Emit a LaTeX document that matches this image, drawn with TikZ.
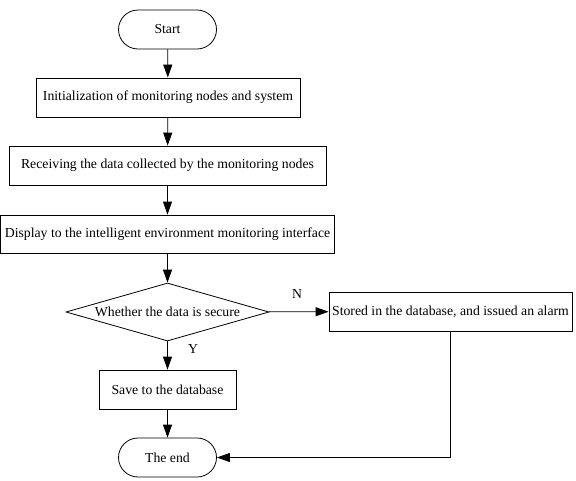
\documentclass[tikz,border=0pt]{standalone}
\usepackage{fontspec}
\setmainfont{Liberation Serif}
\usetikzlibrary{shapes.geometric,arrows.meta}
\begin{document}
\begin{tikzpicture}[x=1pt,y=-1pt,
  every node/.style={font=\fontsize{13.75}{16}\selectfont},
  procbox/.style={draw,line width=0.8pt,inner sep=0pt,minimum height=39pt},
  termbox/.style={draw,line width=0.8pt,inner sep=0pt,minimum width=98pt,minimum height=39pt,rounded corners=19.5pt},
  decbox/.style={draw,diamond,line width=0.8pt,inner sep=0pt,shape aspect=3.5,minimum width=203pt,minimum height=58pt},
  flow/.style={line width=0.8pt,-{Triangle[length=13pt,width=9pt]}},
  lbl/.style={inner sep=0pt}]
\useasboundingbox (0,0) rectangle (576,480);
\node[termbox] (start) at (167.5,29.5) {Start};
\node[procbox,minimum width=264pt] (init) at (168,97.5) {Initialization of monitoring nodes and system};
\node[procbox,minimum width=317pt] (recv) at (167.5,165.5) {Receiving the data collected by the monitoring nodes};
\node[procbox,minimum width=334pt,minimum height=38pt] (disp) at (167.5,234) {Display to the intelligent environment monitoring interface};
\node[decbox] (dec) at (167.5,312) {Whether the data is secure};
\node[procbox,minimum width=243pt] (alarm) at (450.5,311.5) {Stored in the database, and issued an alarm};
\node[procbox,minimum width=137pt] (save) at (167.5,389.5) {Save to the database};
\node[termbox] (end) at (167.5,457.5) {The end};
\node[lbl] (nlab) at (297,294) {N};
\node[lbl] (ylab) at (193,349) {Y};
\draw[flow] (start) -- (init);
\draw[flow] (init) -- (recv);
\draw[flow] (recv) -- (disp);
\draw[flow] (disp) -- (dec);
\draw[flow] (dec) -- (alarm);
\draw[flow] (dec) -- (save);
\draw[flow] (save) -- (end);
\draw[flow] (alarm.south) |- (end.east);
\end{tikzpicture}
\end{document}
